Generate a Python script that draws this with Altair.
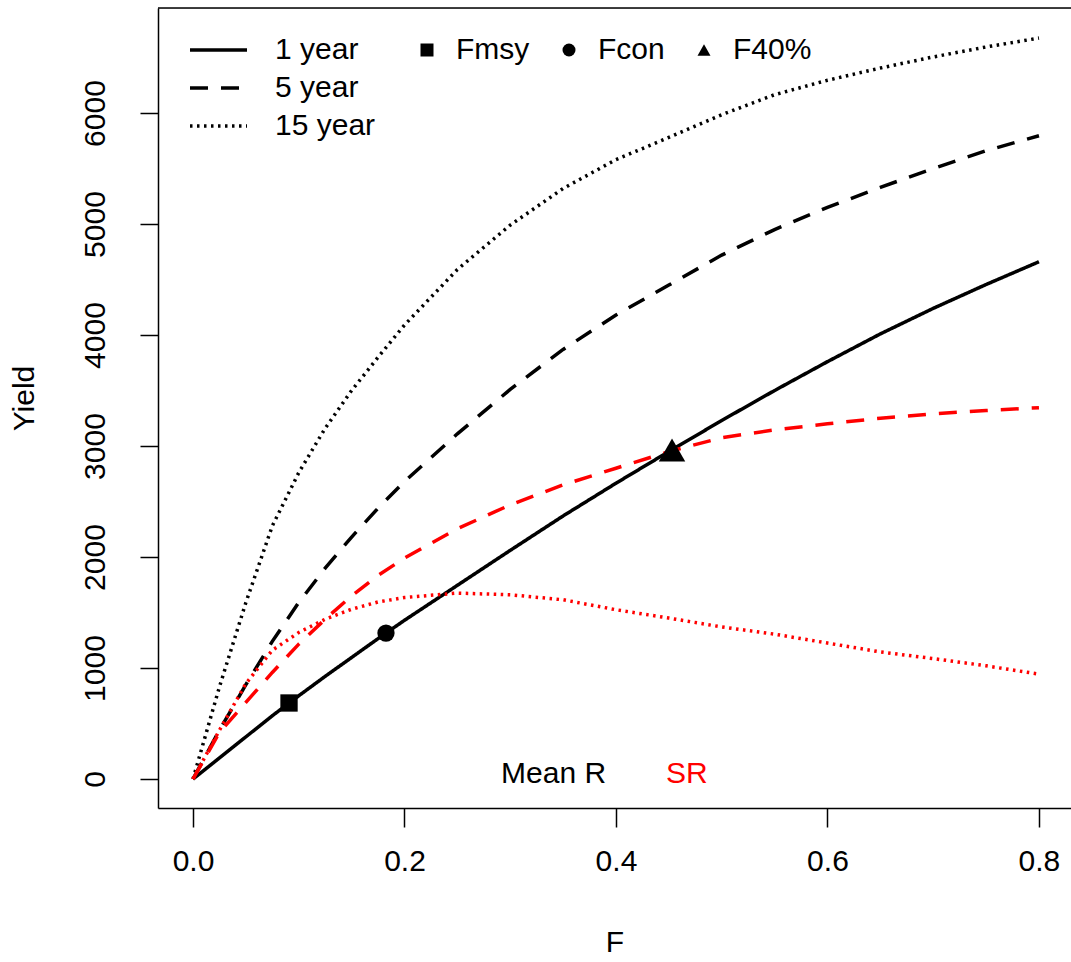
import altair as alt
import pandas as pd

# Fishing mortality grid shared by every yield curve
F_GRID = [0, 0.025, 0.05, 0.075, 0.1, 0.125, 0.15, 0.175, 0.2, 0.25, 0.3,
          0.35, 0.4, 0.45, 0.5, 0.55, 0.6, 0.65, 0.7, 0.75, 0.8]

# Yield under mean recruitment
MEAN_R_1YR = [0, 190, 380, 570, 750, 925, 1095, 1265, 1430, 1745, 2060,
              2370, 2665, 2950, 3230, 3500, 3760, 4010, 4240, 4455, 4660]
MEAN_R_5YR = [0, 440, 850, 1240, 1590, 1900, 2180, 2440, 2680, 3110, 3510,
              3870, 4180, 4450, 4720, 4950, 5150, 5330, 5500, 5660, 5795]
MEAN_R_15YR = [0, 830, 1590, 2280, 2760, 3160, 3500, 3800, 4090, 4590, 4990,
               5320, 5580, 5780, 5985, 6165, 6295, 6405, 6505, 6595, 6675]

# Yield under the stock-recruitment relationship
SR_5YR = [0, 420, 690, 960, 1215, 1440, 1650, 1835, 1990, 2255, 2470,
          2650, 2800, 2950, 3075, 3145, 3200, 3250, 3290, 3320, 3345]
SR_15YR = [0, 440, 860, 1160, 1320, 1440, 1530, 1595, 1635, 1675, 1660,
           1615, 1525, 1450, 1370, 1305, 1225, 1145, 1085, 1020, 945]

# Reference points on the 1-year mean-R curve
REF_NAMES = ["Fmsy", "Fcon", "F40%"]
REF_F = [0.0908, 0.1825, 0.453]
REF_YIELD = [685, 1315, 2964]

# In-plot labels for the two recruitment assumptions
NOTE_TEXT = ["Mean R", "SR"]
NOTE_F = [0.341, 0.467]
NOTE_YIELD = [45, 45]

HORIZONS = ["1 year", "5 year", "15 year"]
MODELS = ["Mean R", "SR"]

curves = [
    ("Mean R", "1 year", MEAN_R_1YR),
    ("Mean R", "5 year", MEAN_R_5YR),
    ("Mean R", "15 year", MEAN_R_15YR),
    ("SR", "5 year", SR_5YR),
    ("SR", "15 year", SR_15YR),
]
rows = []
for model, horizon, values in curves:
    for f, y in zip(F_GRID, values):
        rows.append({"F": f, "Yield": y, "model": model, "horizon": horizon})
lines_df = pd.DataFrame(rows)
refs_df = pd.DataFrame({"F": REF_F, "Yield": REF_YIELD, "ref": REF_NAMES})
notes_df = pd.DataFrame({"F": NOTE_F, "Yield": NOTE_YIELD, "model": NOTE_TEXT})

FONT = "Liberation Sans"
W, H = 913, 800

x_enc = alt.X(
    "F:Q",
    scale=alt.Scale(domain=[-0.0331, 0.8303], nice=False, zero=False),
    axis=alt.Axis(
        values=[0, 0.2, 0.4, 0.6, 0.8], format=".1f", title="F",
        grid=False, tickSize=19, tickWidth=1.5, tickColor="#000",
        domainColor="#000", domainWidth=1.5,
        labelFontSize=30, labelFont=FONT, labelColor="#000", labelPadding=19,
        titleFontSize=30, titleFont=FONT, titleFontWeight="normal",
        titleColor="#000", titleBaseline="alphabetic", titleY=143,
    ),
)
y_enc = alt.Y(
    "Yield:Q",
    scale=alt.Scale(domain=[-261, 6946], nice=False, zero=False),
    axis=alt.Axis(
        values=[0, 1000, 2000, 3000, 4000, 5000, 6000], format="d",
        title="Yield", grid=False, tickSize=18, tickWidth=1.5,
        tickColor="#000", domainColor="#000", domainWidth=1.5,
        labelFontSize=30, labelFont=FONT, labelColor="#000",
        labelAngle=270, labelAlign="center", labelBaseline="bottom",
        labelPadding=30,
        titleFontSize=30, titleFont=FONT, titleFontWeight="normal",
        titleColor="#000", titleBaseline="alphabetic", titleX=-125, titleY=390,
    ),
)

color_scale = alt.Scale(domain=MODELS, range=["#000000", "#ff0000"])

line_legend = alt.Legend(
    title=None, orient="none", legendX=30, legendY=27, padding=0,
    labelFontSize=30, labelFont=FONT, labelColor="#000",
    symbolType="stroke", symbolSize=3249, symbolStrokeColor="#000",
    labelOffset=26, rowPadding=8, clipHeight=30,
)

lines = alt.Chart(lines_df).mark_line(clip=True).encode(
    x=x_enc,
    y=y_enc,
    color=alt.Color("model:N", scale=color_scale, legend=None),
    strokeDash=alt.StrokeDash(
        "horizon:N",
        scale=alt.Scale(domain=HORIZONS, range=[[1, 0], [18, 13], [2.5, 4.5]]),
        legend=line_legend,
    ),
    strokeWidth=alt.StrokeWidth(
        "horizon:N",
        scale=alt.Scale(domain=HORIZONS, range=[3.5, 3.5, 1.6]),
        legend=line_legend,
    ),
    order=alt.Order("F:Q"),
)

shape_scale = alt.Scale(domain=REF_NAMES, range=["square", "circle", "triangle-up"])

points = alt.Chart(refs_df).mark_point(filled=True, opacity=1, color="#000").encode(
    x="F:Q",
    y="Yield:Q",
    shape=alt.Shape(
        "ref:N",
        scale=shape_scale,
        legend=alt.Legend(
            title=None, orient="none", legendX=254, legendY=27, padding=0,
            direction="horizontal", columns=3, columnPadding=24,
            labelFontSize=30, labelFont=FONT, labelColor="#000",
            symbolSize=169, symbolFillColor="#000", symbolStrokeColor="#000",
            labelOffset=14,
        ),
    ),
    size=alt.value(300),
)

# the F40% triangle is drawn a little larger than the other two markers
triangle = alt.Chart(refs_df).transform_filter(
    alt.datum.ref == "F40%"
).mark_point(filled=True, opacity=1, color="#000", shape="triangle-up", size=700).encode(
    x="F:Q",
    y="Yield:Q",
)

notes = alt.Chart(notes_df).mark_text(
    font=FONT, fontSize=30, align="center", baseline="middle"
).encode(
    x="F:Q",
    y="Yield:Q",
    text="model:N",
    color=alt.Color("model:N", scale=color_scale, legend=None),
)

# top edge of the plot frame (the right edge falls just outside the page)
top_edge = alt.Chart(pd.DataFrame({"k": [0]})).mark_rule(
    color="#000", strokeWidth=1.5
).encode(x=alt.value(0), x2=alt.value(W), y=alt.value(0))

chart = alt.layer(lines, points, triangle, notes, top_edge).properties(
    width=W, height=H,
    autosize=alt.AutoSizeParams(type="none"),
    padding={"left": 158, "top": 8, "right": 0, "bottom": 154},
).configure_view(stroke=None).configure(background="white")

chart.save("out.html", embed_options={"renderer": "svg", "actions": False})
